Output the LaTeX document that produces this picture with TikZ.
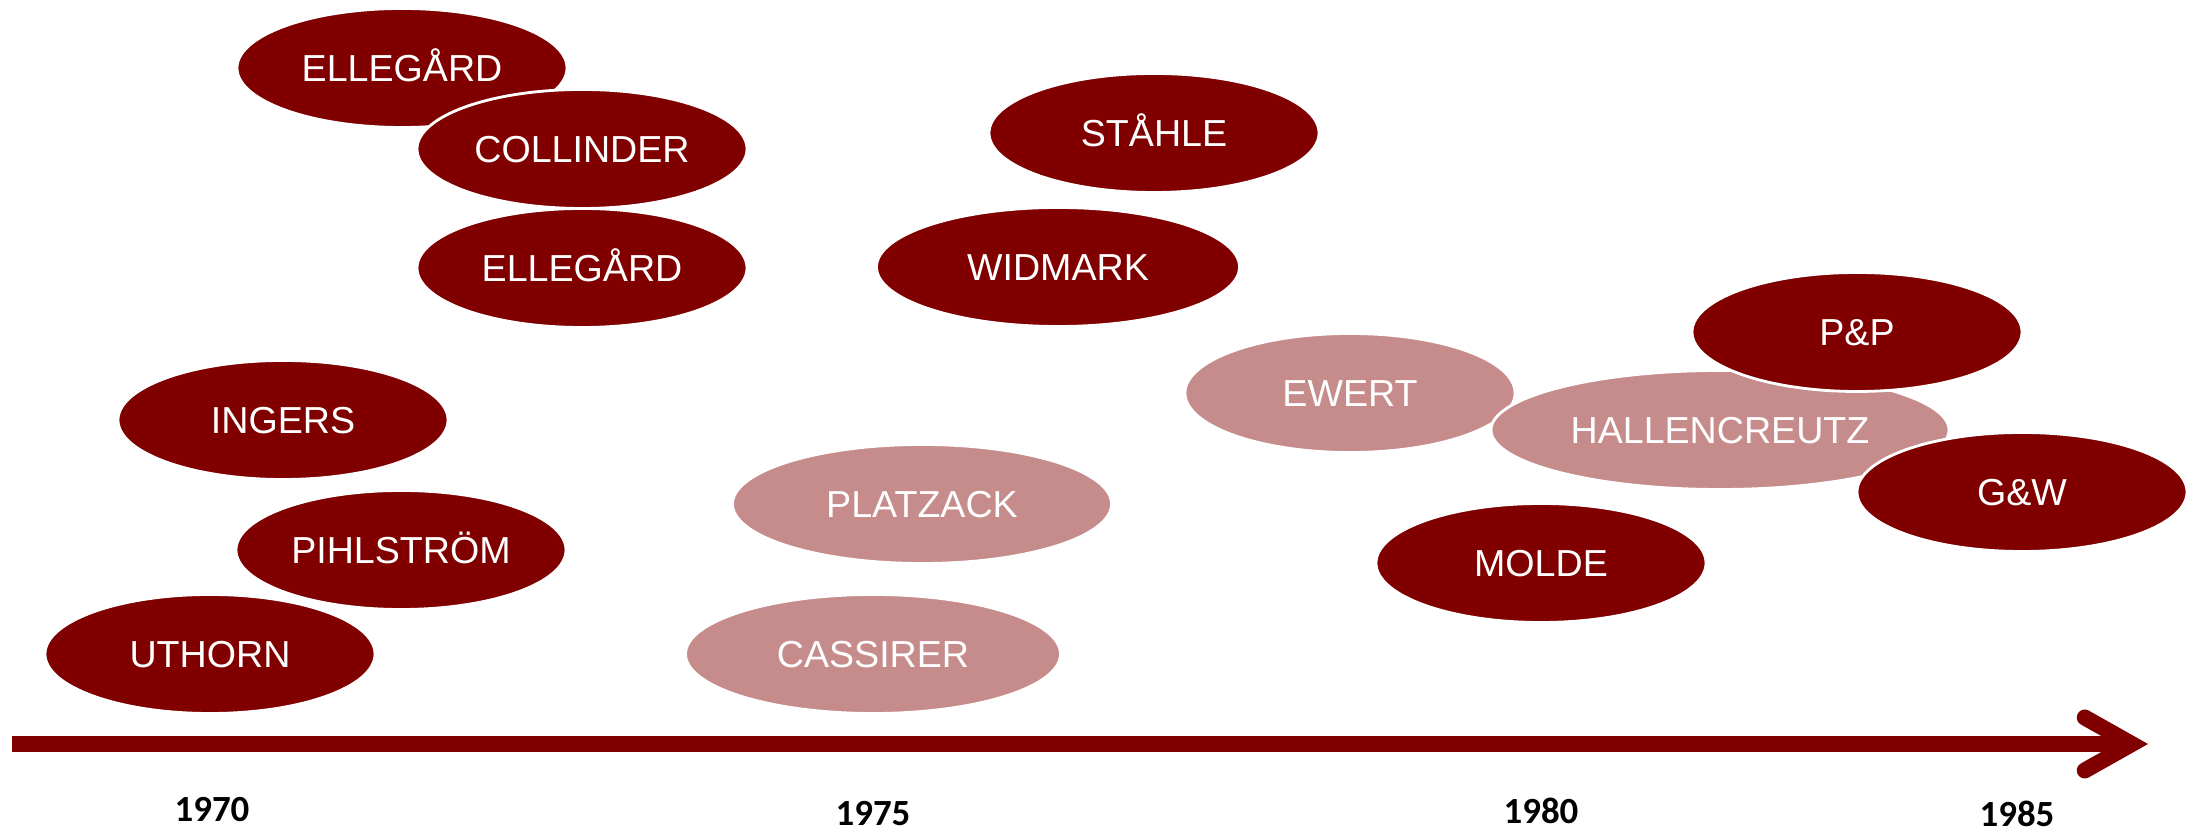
\documentclass[tikz,border=0pt]{standalone}
\usepackage{fontspec}
\setmainfont{Liberation Sans}
\newfontfamily\yearfont{Carlito}
\usetikzlibrary{shapes.geometric,arrows.meta}
\definecolor{darkred}{HTML}{800000}
\definecolor{lightred}{HTML}{C68C8C}

\begin{document}
\begin{tikzpicture}[
  every node/.style={font=\fontsize{10.7}{12}\selectfont},
  oval/.style={ellipse,draw=white,line width=0.8pt,text=white,inner sep=0pt,
    minimum width=3.3cm,minimum height=1.19cm,text height=0.27cm,text depth=0pt},
  dark/.style={oval,fill=darkred},
  light/.style={oval,fill=lightred},
  year/.style={font=\yearfont\bfseries\fontsize{10.5}{12}\selectfont,text=black},
  axisline/.style={draw=darkred,line width=0.16cm}]
\useasboundingbox (0,0) rectangle (21.88,8.32);

% 1970 - 1974
\path (4.02,7.64) node[dark] (ell1) {ELLEGÅRD};
\path (5.82,6.83) node[dark] (coll) {COLLINDER};
\path (5.82,5.64) node[dark] (ell2) {ELLEGÅRD};
\path (2.83,4.12) node[dark] (ing) {INGERS};
\path (4.01,2.82) node[dark] (pihl) {PIHLSTRÖM};
\path (2.10,1.78) node[dark] (uth) {UTHORN};

% 1975 - 1979
\path (9.22,3.28) node[light,minimum width=3.79cm] (plat) {PLATZACK};
\path (8.73,1.78) node[light,minimum width=3.75cm] (cass) {CASSIRER};
\path (11.54,6.99) node[dark] (stah) {STÅHLE};
\path (10.58,5.65) node[dark,minimum width=3.63cm] (widm) {WIDMARK};
\path (13.50,4.39) node[light] (ewer) {EWERT};

% 1980 - 1985
\path (17.20,4.02) node[light,minimum width=4.58cm] (hall) {HALLENCREUTZ};
\path (15.41,2.69) node[dark] (mold) {MOLDE};
\path (18.57,5.00) node[dark] (pp) {P\&P};
\path (20.22,3.40) node[dark] (gw) {G\&W};

% time axis
\coordinate (start) at (0.12,0.88);
\coordinate (end) at (21.48,0.88);
\draw[axisline,-{Straight Barb[length=0.47cm,width=0.53cm,line cap=round]}] (start) -- (end);

\draw (2.12,0.22) node[year] (y70) {1970};
\draw (8.73,0.18) node[year] (y75) {1975};
\draw (15.41,0.21) node[year] (y80) {1980};
\draw (20.17,0.18) node[year] (y85) {1985};
\end{tikzpicture}
\end{document}
